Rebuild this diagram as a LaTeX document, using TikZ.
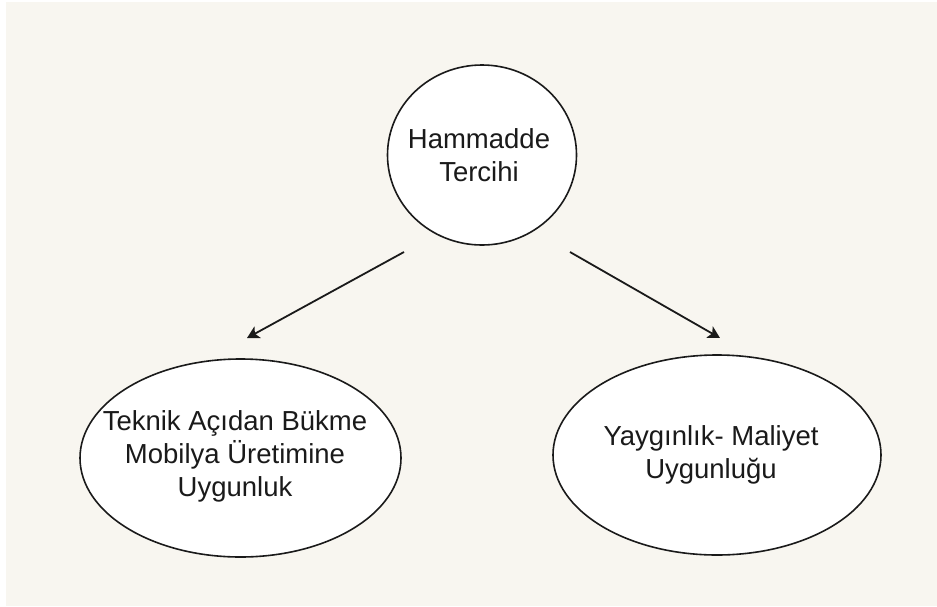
\documentclass[tikz,border=0pt]{standalone}
\usepackage{fontspec}
\setmainfont{Liberation Sans}
\usetikzlibrary{shapes.geometric,arrows.meta}
\definecolor{bg}{HTML}{F8F6F0}
\definecolor{ink}{HTML}{1A1A1A}
\begin{document}
\begin{tikzpicture}[x=1pt,y=-1pt,
  bubble/.style={ellipse, draw=ink, line width=1.6pt, fill=white, inner sep=0pt},
  caption/.style={inner sep=0pt, align=center, font=\fontsize{27.5}{32.5}\selectfont, text=ink},
  link/.style={draw=ink, line width=1.8pt, -{Stealth[length=12pt,width=13pt,inset=3pt]}}]
\useasboundingbox (0,0) rectangle (937,606);
\fill[white] (0,0) rectangle (937,606);
\fill[bg] (6,2) rectangle (937,606);
\node[bubble, minimum width=189pt, minimum height=180pt] (top) at (482,155) {};
\node[caption] (topt) at (479,155) {Hammadde\\Tercihi};
\node[bubble, minimum width=321pt, minimum height=198pt] (left) at (240.5,458) {};
\node[caption, font=\fontsize{27.5}{33}\selectfont] (leftt) at (235,456) {Teknik Açıdan Bükme\\Mobilya Üretimine\\Uygunluk};
\node[bubble, minimum width=328pt, minimum height=200pt] (right) at (717,455) {};
\node[caption] (rightt) at (711,455) {Yaygınlık- Maliyet\\Uygunluğu};
\coordinate (l0) at (404,252);
\coordinate (l1) at (247,338);
\coordinate (r0) at (570,252);
\coordinate (r1) at (720,338);
\draw[link] (l0) -- (l1);
\draw[link] (r0) -- (r1);
\end{tikzpicture}
\end{document}
